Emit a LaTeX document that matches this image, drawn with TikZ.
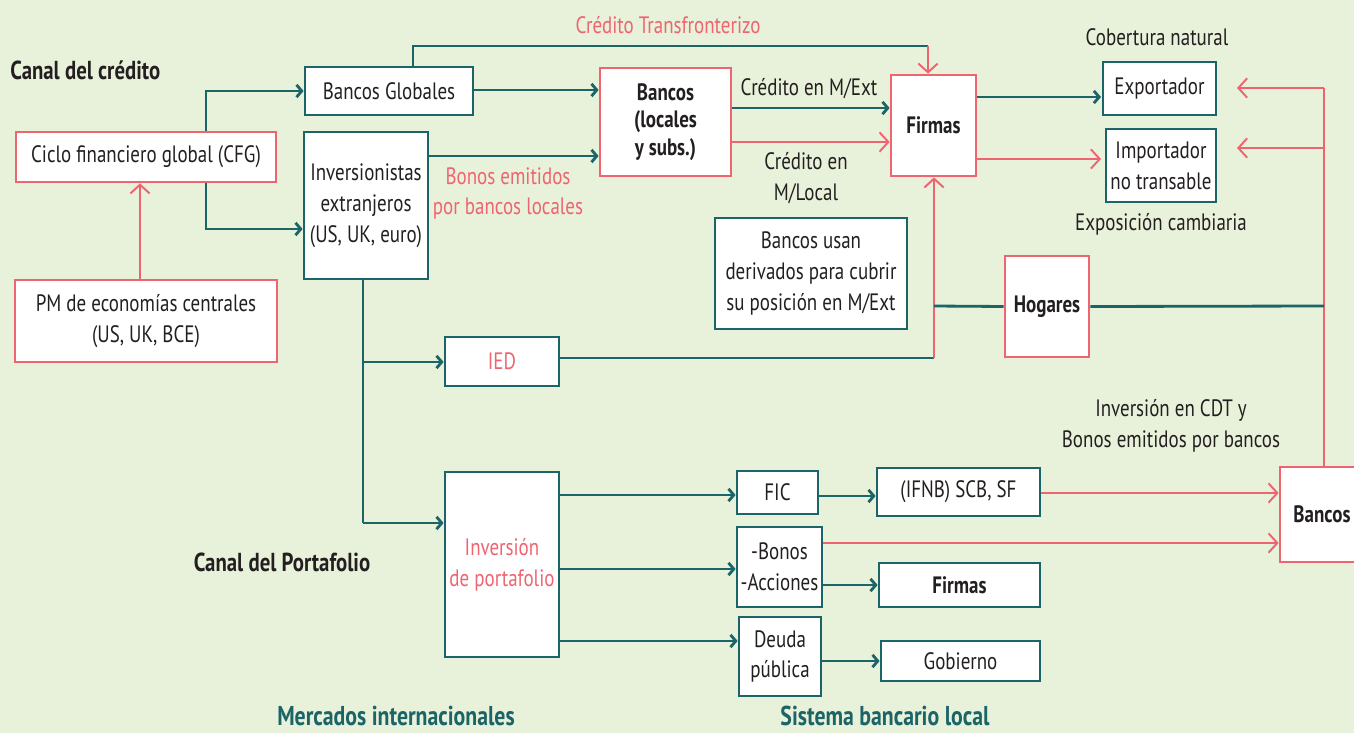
\documentclass[tikz,border=0pt]{standalone}
\usepackage{fontspec}
\setmainfont{PT Sans}[FakeStretch=0.8]
\usepackage{tikz}
\usetikzlibrary{arrows.meta}
\definecolor{fondo}{HTML}{E8F1D9}
\definecolor{petroleo}{HTML}{1B6468}
\definecolor{coral}{HTML}{EE6470}
\definecolor{tinta}{HTML}{231F20}
\tikzstyle{cajaT}=[draw=petroleo,line width=1.6pt,fill=white,inner sep=0pt,align=center,text=tinta]
\tikzstyle{cajaR}=[draw=coral,line width=1.6pt,fill=white,inner sep=0pt,align=center,text=tinta]
\tikzstyle{lineaT}=[line width=1.6pt,draw=petroleo]
\tikzstyle{lineaR}=[line width=1.1pt,draw=coral]
\tikzstyle{flechaT}=[lineaT,-{Straight Barb[length=3pt,width=7pt]}]
\tikzstyle{flechaR}=[lineaR,-{Straight Barb[length=5pt,width=11pt]}]
\tikzstyle{rotulo}=[inner sep=0pt,align=center,text=tinta]
\tikzstyle{titulo}=[inner sep=0pt,align=center,text=tinta,font=\fontsize{14.8}{17.6}\selectfont\bfseries]

\begin{document}
\begin{tikzpicture}[x=0.02cm,y=-0.02cm,font=\fontsize{13.5}{17.6}\selectfont]
\fill[fondo] (0,0) rectangle (1354,733);
\useasboundingbox (0,0) rectangle (1354,733);

%Mercados internacionales
\node[titulo,anchor=west] (canalC) at (10,70) {Canal del crédito};
\node[cajaR,minimum width=5.2cm,minimum height=1.0cm] (CFG) at (146,157) {Ciclo financiero global (CFG)};
\node[cajaR,minimum width=5.24cm,minimum height=1.64cm] (PM) at (146,321) {PM de economías centrales\\(US, UK, BCE)};
\node[cajaT,minimum width=3.36cm,minimum height=0.96cm] (BG) at (389,91) {Bancos Globales};
\node[cajaT,minimum width=2.48cm,minimum height=2.94cm] (INV) at (366,205.5) {Inversionistas\\extranjeros\\(US, UK, euro)};
\node[cajaT,minimum width=2.28cm,minimum height=0.98cm,text=coral] (IED) at (502,361.5) {IED};
\node[cajaT,minimum width=2.28cm,minimum height=3.70cm,text=coral] (PORT) at (502,564.5) {Inversión\\de portafolio};
\node[titulo] (canalP) at (282,562) {Canal del Portafolio};
\node[titulo,text=petroleo,font=\fontsize{15.5}{17.6}\selectfont\bfseries] (mercados) at (396,716) {Mercados internacionales};

%Sistema bancario local
\node[cajaR,minimum width=2.62cm,minimum height=2.16cm,font=\fontsize{13.5}{15.6}\selectfont\bfseries] (BL) at (665.5,122) {Bancos\\(locales\\y subs.)};
\node[cajaR,minimum width=1.70cm,minimum height=2.02cm,font=\fontsize{13.5}{17.6}\selectfont\bfseries] (FIR) at (933.5,125.5) {Firmas};
\node[cajaT,minimum width=2.26cm,minimum height=1.06cm] (EXP) at (1159.5,88.5) {Exportador};
\node[cajaT,minimum width=2.20cm,minimum height=1.46cm] (IMP) at (1161,165.5) {Importador\\no transable};
\node[cajaT,minimum width=3.84cm,minimum height=2.22cm] (DER) at (811,273.5) {Bancos usan\\derivados para cubrir\\su posición en M/Ext};
\node[cajaR,minimum width=1.68cm,minimum height=2.02cm,font=\fontsize{13.5}{17.6}\selectfont\bfseries] (HOG) at (1047,306.5) {Hogares};
\node[cajaT,minimum width=1.62cm,minimum height=0.86cm] (FIC) at (777.5,492.5) {FIC};
\node[cajaT,minimum width=3.26cm,minimum height=0.96cm] (IFNB) at (958.5,492) {(IFNB) SCB, SF};
\node[cajaT,minimum width=1.70cm,minimum height=1.60cm] (BON) at (779.5,567) {-Bonos\\-Acciones};
\node[cajaT,minimum width=3.22cm,minimum height=0.88cm,font=\fontsize{13.5}{17.6}\selectfont\bfseries] (FIR2) at (959.5,585) {Firmas};
\node[cajaT,minimum width=1.64cm,minimum height=1.58cm] (DEU) at (780,656.5) {Deuda\\pública};
\node[cajaT,minimum width=3.18cm,minimum height=0.80cm] (GOB) at (960.5,661) {Gobierno};
\node[cajaR,minimum width=1.68cm,minimum height=1.90cm,font=\fontsize{13.5}{17.6}\selectfont\bfseries] (BAN) at (1322,514.5) {Bancos};
\node[titulo,text=petroleo,font=\fontsize{15.5}{17.6}\selectfont\bfseries] (sistema) at (885,716) {Sistema bancario local};

%rotulos de las flechas
\node[rotulo,text=coral] (transf) at (668,25) {Crédito Transfronterizo};
\node[rotulo,text=coral] (bonosBL) at (508,193.5) {Bonos emitidos\\por bancos locales};
\node[rotulo] (mext) at (809,89) {Crédito en M/Ext};
\node[rotulo] (mloc) at (806,178.5) {Crédito en\\M/Local};
\node[rotulo] (cobert) at (1157,37) {Cobertura natural};
\node[rotulo] (expos) at (1161,224) {Exposición cambiaria};
\node[rotulo] (cdt) at (1171,426) {Inversión en CDT y\\Bonos emitidos por bancos};

%puntos de quiebre
\coordinate (q1) at (206,90);
\coordinate (q2) at (206,229);
\coordinate (t1) at (413,46);
\coordinate (t2) at (928,46);
\coordinate (v1) at (363,362);
\coordinate (v2) at (363,523);
\coordinate (f1) at (934,358);
\coordinate (f2) at (934,306);
\coordinate (d1) at (1324,88);
\coordinate (d2) at (1324,148);
\coordinate (d3) at (1324,306);
\coordinate (e1) at (1237,88);
\coordinate (e2) at (1237,148);

%canal del credito
\draw[flechaT] (CFG.north -| q1) |- (BG.west);
\draw[flechaT] (CFG.south -| q2) |- (INV.west |- q2);
\draw[flechaR] (PM.north -| 140,0) -- (CFG.south -| 140,0);
\draw[lineaT] (BG.north -| t1) -- (t1) -- (t2);
\draw[flechaR] (t2) -- (FIR.north -| t2);
\draw[flechaT] (BG.east |- 0,90) -- (BL.west |- 0,90);
\draw[flechaT] (INV.east |- 0,156) -- (BL.west |- 0,156);
\draw[flechaT] (BL.east |- 0,108) -- (FIR.west |- 0,108);
\draw[flechaR] (BL.east |- 0,142) -- (FIR.west |- 0,142);
\draw[flechaT] (FIR.east |- 0,97) -- (1101,97);
\draw[flechaR] (FIR.east |- 0,159) -- (1101,159);
\draw[lineaR] (BAN.north -| d1) -- (d1);
\draw[flechaR] (d1) -- (e1);
\draw[flechaR] (d2) -- (e2);

%canal del portafolio
\draw[lineaT] (INV.south -| v1) -- (v2);
\draw[flechaT] (v1) -- (IED.west |- v1);
\draw[flechaT] (v2) -- (PORT.west |- v2);
\draw[lineaT] (IED.east |- f1) -- (f1);
\draw[flechaR] (f1) -- (FIR.south -| f1);
\draw[lineaT] (HOG.west) -- (f2);
\draw[lineaT] (HOG.east) -- (d3);
\draw[flechaT] (PORT.east |- 0,495) -- (FIC.west |- 0,495);
\draw[flechaT] (PORT.east |- 0,569) -- (BON.west |- 0,569);
\draw[flechaT] (PORT.east |- 0,641) -- (DEU.west |- 0,641);
\draw[flechaT] (FIC.east |- 0,496) -- (IFNB.west |- 0,496);
\draw[flechaR] (IFNB.east |- 0,493) -- (BAN.west |- 0,493);
\draw[flechaR] (BON.east |- 0,543) -- (BAN.west |- 0,543);
\draw[flechaT] (BON.east |- FIR2.west) -- (FIR2.west);
\draw[flechaT] (DEU.east |- GOB.west) -- (GOB.west);
\end{tikzpicture}
\end{document}
